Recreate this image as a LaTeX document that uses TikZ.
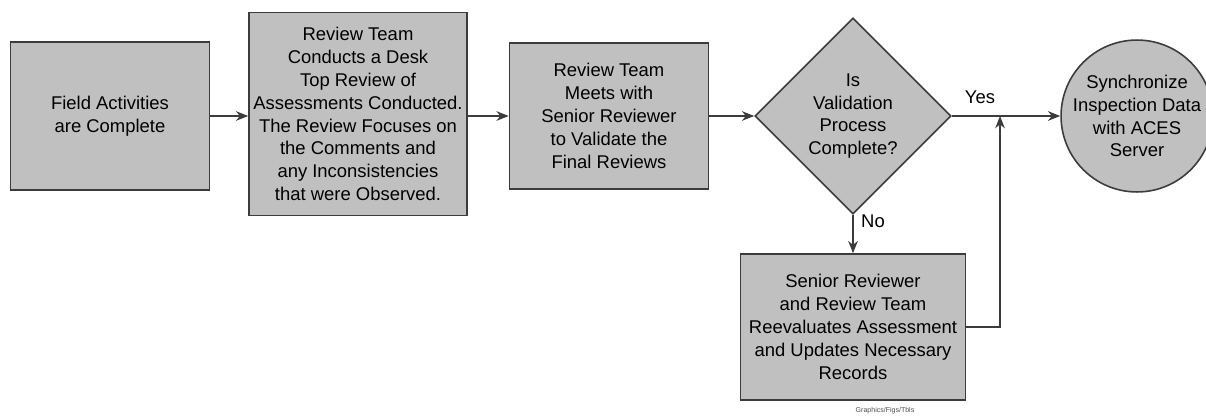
\documentclass[tikz,border=0pt]{standalone}
\usepackage{fontspec}
\setmainfont{Liberation Sans}
\usetikzlibrary{arrows.meta}
\usetikzlibrary{shapes.geometric}
\definecolor{boxgray}{RGB}{192,192,192}
\definecolor{linegray}{RGB}{60,60,60}
\tikzset{
        flownode/.style={align=center,inner sep=0pt,draw=linegray,line width=0.9pt,fill=boxgray,
                         font=\fontsize{10.5}{13}\selectfont},
        % Process steps
        node_step/.style={flownode, rectangle},
        % Decision
        node_decision/.style={flownode, diamond, aspect=1},
        % End point
        node_end/.style={flownode, circle},
        % Branch labels
        node_label/.style={inner sep=0pt,font=\fontsize{10.5}{13}\selectfont},
        flow/.style={-{Stealth[length=7pt,width=5.5pt]},line width=0.8pt,draw=linegray}
}
\begin{document}
\begin{tikzpicture}[x=0.02cm,y=-0.02cm]
    \useasboundingbox (0,0) rectangle (1206,416);
    \node[node_step, minimum width=199*0.02cm, minimum height=148*0.02cm] (field) at (110,116)
        {Field Activities\\are Complete};
    \node[node_step, minimum width=218*0.02cm, minimum height=203*0.02cm] (desk) at (358,114)
        {Review Team\\Conducts a Desk\\Top Review of\\Assessments Conducted.\\The Review Focuses on\\the Comments and\\any Inconsistencies\\that were Observed.};
    \node[node_step, minimum width=199*0.02cm, minimum height=146*0.02cm] (meet) at (609,116)
        {Review Team\\Meets with\\Senior Reviewer\\to Validate the\\Final Reviews};
    \node[node_decision, minimum width=196*0.02cm, minimum height=196*0.02cm] (valid) at (853,116)
        {Is\\Validation\\Process\\Complete?};
    \node[node_end, minimum size=144*0.02cm] (sync) at (1137,116)
        {Synchronize\\Inspection Data\\with ACES\\Server};
    \node[node_step, minimum width=225*0.02cm, minimum height=146*0.02cm] (reeval) at (853,327)
        {Senior Reviewer\\and Review Team\\Reevaluates Assessment\\and Updates Necessary\\Records};
    \coordinate (merge) at (1000,116);

    \draw[flow] (field.east |- 0,116) -- (desk.west |- 0,116);
    \draw[flow] (desk.east |- 0,116) -- (meet.west);
    \draw[flow] (meet.east) -- (valid.west);
    \draw[flow] (valid.east) -- (sync.west);
    \draw[flow] (valid.south) -- (reeval.north);
    \draw[flow] (reeval.east) -| (merge);

    \node[node_label] (yes) at (980,97) {Yes};
    \node[node_label] (no) at (873,221) {No};
    \node[inner sep=0pt,font=\fontsize{4}{5}\selectfont,text=black!70] (credit) at (885,411) {Graphics/Figs/Tbls};
\end{tikzpicture}
\end{document}
